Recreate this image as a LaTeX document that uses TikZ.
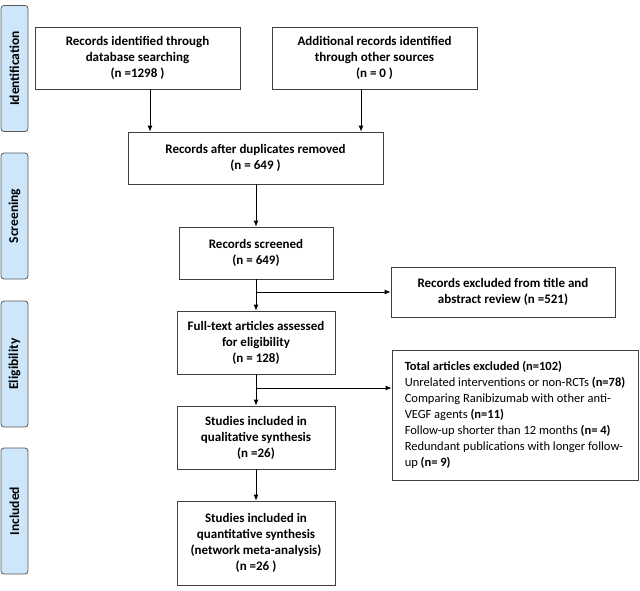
\documentclass[tikz,border=0pt]{standalone}
\usepackage{fontspec}
\setmainfont{Carlito}
\usetikzlibrary{arrows.meta}
\definecolor{phaseblue}{RGB}{205,230,250}
\tikzset{
  box/.style={draw=black!75,line width=.8pt,align=center,
    font=\fontsize{13}{16}\selectfont\bfseries,inner sep=2pt},
  phase/.style={draw=black!65,fill=phaseblue,rounded corners=3pt,line width=.8pt,
    font=\fontsize{13.5}{16}\selectfont\bfseries,rotate=90,minimum height=27pt,minimum width=126pt},
  arr/.style={-{Latex[length=6pt,width=5pt]},line width=.8pt},
}
\begin{document}
\begin{tikzpicture}[x=1pt,y=-1pt]
  \useasboundingbox (0,0) rectangle (640,590);
  % phases
  \node[phase] (ident) at (14.5,68.5) {Identification};
  \node[phase] (screen) at (14.5,216) {Screening};
  \node[phase] (elig) at (14.5,364) {Eligibility};
  \node[phase] (incl) at (14.5,511) {Included};
  % boxes
  \node[box,minimum width=205pt,minimum height=62pt] (db) at (137.5,58)
    {Records identified through\\database searching\\(n =1298 )};
  \node[box,minimum width=205pt,minimum height=62pt] (other) at (374.5,58)
    {Additional records identified\\through other sources\\(n = 0 )};
  \node[box,minimum width=255pt,minimum height=52pt] (dup) at (255.5,158)
    {Records after duplicates removed\\(n = 649 )};
  \node[box,minimum width=154pt,minimum height=52pt] (scr) at (256,253)
    {Records screened\\(n = 649)};
  \node[box,minimum width=224pt,minimum height=50pt] (exabs) at (503,292)
    {Records excluded from title and\\abstract review (n =521)};
  \node[box,minimum width=158pt,minimum height=63pt] (full) at (256,342.5)
    {Full-text articles assessed\\for eligibility\\(n = 128)};
  \node[box,font=\fontsize{12.5}{16}\selectfont,align=left,
    minimum width=246pt,minimum height=130pt] (exfull) at (515,415)
    {\textbf{Total articles excluded (n=102)}\\
     Unrelated interventions or non-RCTs \textbf{(n=78)}\\
     Comparing Ranibizumab with other anti-\\
     VEGF agents \textbf{(n=11)}\\
     Follow-up shorter than 12 months \textbf{(n= 4)}\\
     Redundant publications with longer follow-\\
     up \textbf{(n= 9)}};
  \node[box,minimum width=158pt,minimum height=63pt] (qual) at (256,437.5)
    {Studies included in\\qualitative synthesis\\(n =26)};
  \node[box,minimum width=158pt,minimum height=84pt] (quant) at (256,543)
    {Studies included in\\quantitative synthesis\\(network meta-analysis)\\(n =26 )};
  % arrows
  \draw[arr] ([xshift=12.5pt]db.south) -- ([xshift=12.5pt]db.south |- dup.north);
  \draw[arr] ([xshift=-13.5pt]other.south) -- ([xshift=-13.5pt]other.south |- dup.north);
  \draw[arr] (dup.south -| scr.north) -- (scr);
  \draw[arr] (scr) -- (full);
  \coordinate (br1) at (scr.south |- exabs.west);
  \draw[arr] (br1) -- (exabs);
  \draw[arr] (full) -- (qual);
  \coordinate (br2) at (256,388);
  \draw[arr] (br2) -- (exfull.west |- br2);
  \draw[arr] (qual) -- (quant);
\end{tikzpicture}
\end{document}
